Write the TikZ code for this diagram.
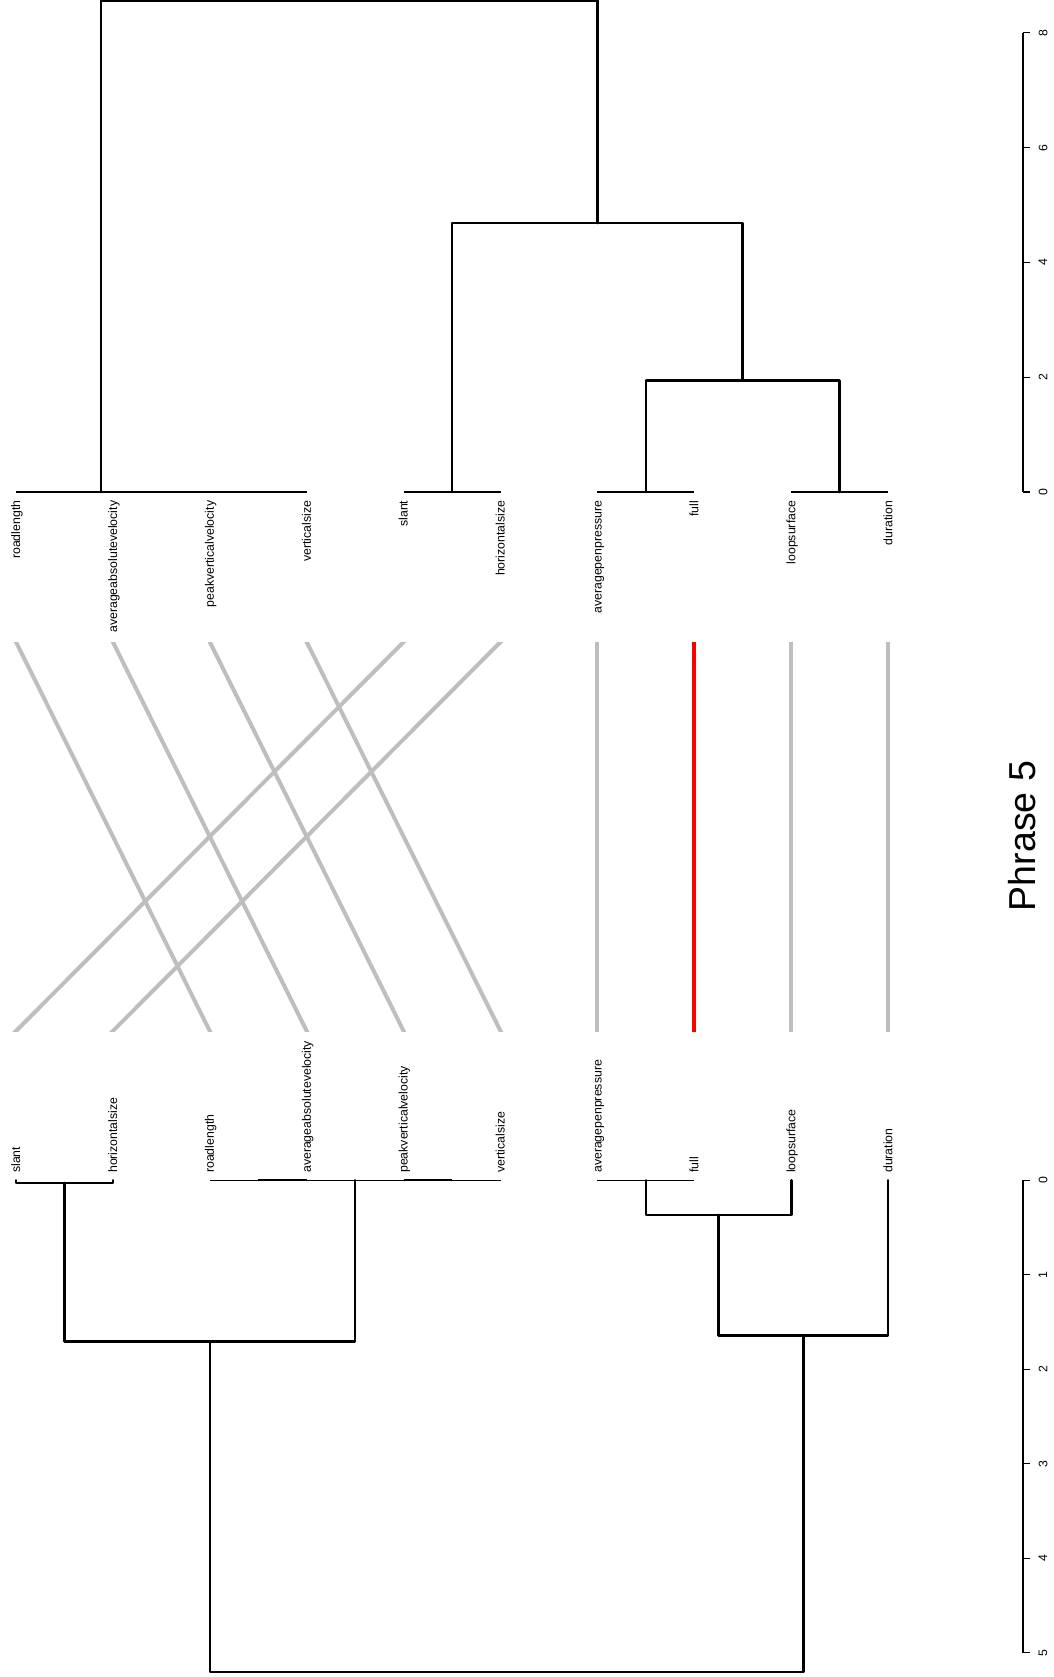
\documentclass[tikz,border=0pt]{standalone}
\usepackage{fontspec}
\setmainfont{Liberation Sans}
\definecolor{linkgray}{HTML}{BEBEBE}
\begin{document}
\begin{tikzpicture}[x=1pt,y=-1pt,
  branch/.style={line width=2.6pt, line cap=round, line join=round, black},
  flat/.style={line width=1.3pt, black},
  flatx/.style={line width=2.2pt, black},
  link/.style={line width=4pt, color=linkgray, shorten <=-6pt, shorten >=-6pt},
  hilite/.style={line width=4pt, color=red, shorten <=-6pt, shorten >=-6pt},
  leaflab/.style={font=\fontsize{12.3}{14}\selectfont, inner sep=0pt, rotate=90},
  axisline/.style={line width=1.3pt, black},
  ticklab/.style={font=\fontsize{12.3}{14}\selectfont, inner sep=0pt, rotate=90},
  titlelab/.style={font=\fontsize{37.5}{40}\selectfont, inner sep=0pt, rotate=90}
]
\useasboundingbox (0,0) rectangle (1053,1677);

% ---------- leaf positions ----------
\foreach \i in {1,...,10} {
  \coordinate (t\i) at ({16+96.9*(\i-1)},492);
  \coordinate (b\i) at ({16+96.9*(\i-1)},1180.3);
  \coordinate (ct\i) at ({16+96.9*(\i-1)},642);
  \coordinate (cb\i) at ({16+96.9*(\i-1)},1031);
}

% ---------- upper dendrogram ----------
\coordinate (tA) at (258.25,492);
\coordinate (tB) at (185.6,492);
\coordinate (tC) at (100.8,492);
\coordinate (tD) at (452.05,492);
\coordinate (tF) at (645.85,492);
\coordinate (tG) at (839.65,492);
\coordinate (tH) at (742.75,380.6);
\coordinate (tE) at (597.4,223);
\coordinate (troot) at (349.1,0.5);

\draw[flat] (t3) -- (t4);
\draw[flat] (t2) -- (tA);
\draw[flat] (t1) -- (tB);
\draw[flatx] (t2) -- (tB);
\draw[flatx] (t3) -- (tA);
\draw[flat] (t5) -- (t6);
\draw[flat] (t7) -- (t8);
\draw[flat] (t9) -- (t10);
\draw[branch] (tF) |- (tH) -| (tG);
\draw[branch] (tD) |- (tE) -| (tH);
\draw[branch] (tC) |- (troot) -| (tE);

% ---------- lower dendrogram ----------
\coordinate (bP) at (64.45,1183);
\coordinate (bQ) at (258.25,1180.3);
\coordinate (bR) at (452.05,1180.3);
\coordinate (bS) at (355.15,1180.3);
\coordinate (bT) at (209.8,1341.7);
\coordinate (bU) at (645.85,1180.3);
\coordinate (bV) at (718.5,1215);
\coordinate (bW) at (803.3,1335.3);
\coordinate (broot) at (506.55,1672);

\draw[flat] (b3) -- (b4);
\draw[flat] (b5) -- (b6);
\draw[flat] (bQ) -- (bR);
\draw[flatx] (bQ) -- (b4);
\draw[flatx] (b5) -- (bR);
\draw[flat] (b7) -- (b8);
\draw[branch] (b1) |- (bP) -| (b2);
\draw[branch] (bP) |- (bT) -| (bS);
\draw[branch] (bU) |- (bV) -| (b9);
\draw[branch] (bV) |- (bW) -| (b10);
\draw[branch] (bT) |- (broot) -| (bW);

% ---------- leaf labels ----------
\foreach \i/\txt in {1/roadlength,2/averageabsolutevelocity,3/peakverticalvelocity,
  4/verticalsize,5/slant,6/horizontalsize,7/averagepenpressure,8/full,
  9/loopsurface,10/duration}
  \node[leaflab, anchor=mid east] (lt\i) at ({17.5+96.9*(\i-1)},500.5) {\txt};

\foreach \i/\txt in {1/slant,2/horizontalsize,3/roadlength,4/averageabsolutevelocity,
  5/peakverticalvelocity,6/verticalsize,7/averagepenpressure,8/full,
  9/loopsurface,10/duration}
  \node[leaflab, anchor=mid west] (lb\i) at ({17.5+96.9*(\i-1)},1173) {\txt};

% ---------- links between the two trees ----------
\begin{scope}
  \clip (0,642) rectangle (1053,1031);
  \draw[link] (ct1) -- (cb3);
  \draw[link] (ct2) -- (cb4);
  \draw[link] (ct3) -- (cb5);
  \draw[link] (ct4) -- (cb6);
  \draw[link] (ct5) -- (cb1);
  \draw[link] (ct6) -- (cb2);
  \draw[link] (ct7) -- (cb7);
  \draw[link] (ct9) -- (cb9);
  \draw[link] (ct10) -- (cb10);
  \draw[hilite] (ct8) -- (cb8);
\end{scope}

% ---------- height axes ----------
\coordinate (ua0) at (1023,492);
\coordinate (ua8) at (1023,32.8);
\draw[axisline] (ua0) -- (ua8);
\foreach \k in {0,2,4,6,8} {
  \coordinate (ut\k) at (1023,{492-57.4*\k});
  \draw[axisline] (ut\k) -- ++(7,0);
  \node[ticklab] (un\k) at (1043,{492-57.4*\k}) {\k};
}

\coordinate (la0) at (1023,1180.3);
\coordinate (la5) at (1023,1652.8);
\draw[axisline] (la0) -- (la5);
\foreach \k in {0,...,5} {
  \coordinate (lt\k) at (1023,{1180.3+94.5*\k});
  \draw[axisline] (lt\k) -- ++(7,0);
  \node[ticklab] (ln\k) at (1043,{1180.3+94.5*\k}) {\k};
}

% ---------- caption ----------
\node[titlelab] (caption) at (1022,836) {Phrase 5};
\end{tikzpicture}
\end{document}
